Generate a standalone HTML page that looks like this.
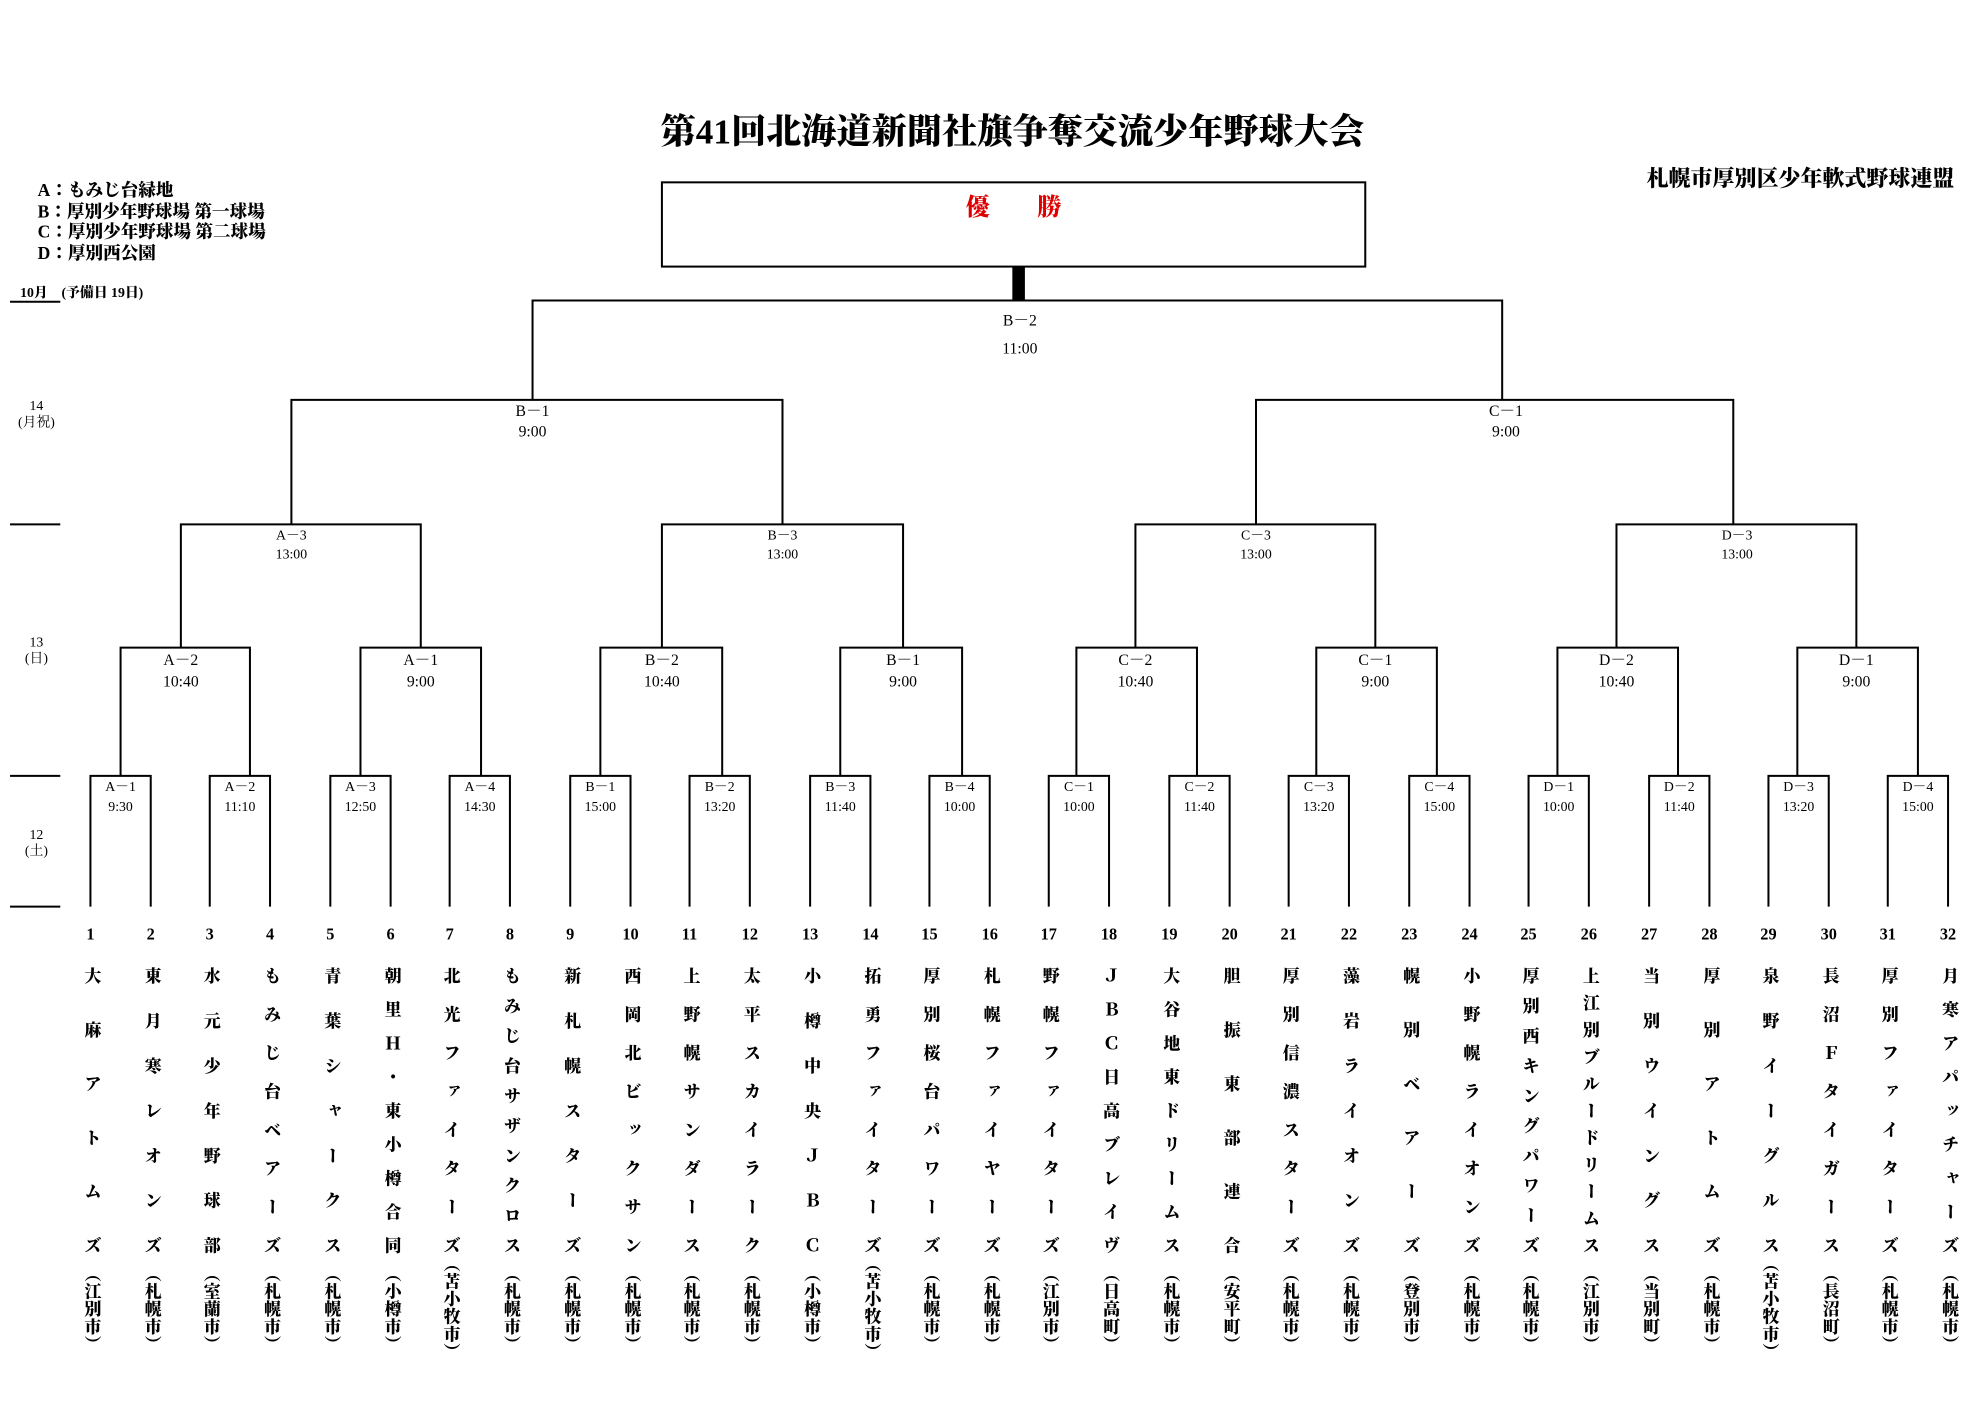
<!DOCTYPE html>
<html><head><meta charset="utf-8">
<style>
html,body{margin:0;padding:0;background:#fff;}
body{width:1969px;height:1406px;overflow:hidden;position:relative;}
#c{position:absolute;left:0;top:0;width:1560px;height:1114px;transform:scale(1.2560,1.2575);transform-origin:0 0;font-family:"Liberation Serif","Noto Serif CJK JP","Noto Serif CJK SC",serif;font-weight:900;color:#000;}
.t{position:absolute;white-space:nowrap;}
.v{position:absolute;writing-mode:vertical-rl;font-size:13.5px;line-height:16px;width:16px;height:228px;top:769px;text-align:justify;text-align-last:justify;}
.cy{position:absolute;writing-mode:vertical-rl;font-size:13.5px;line-height:16px;width:16px;top:1006px;letter-spacing:0.5px;}
.n{position:absolute;top:735px;width:30px;text-align:center;font-size:13px;}
svg{position:absolute;left:0;top:0;}
svg text{font-family:"Liberation Serif","Noto Serif CJK JP",serif;font-weight:normal;fill:#000;text-anchor:middle;}
</style></head><body><div id="c">
<svg width="1560" height="1114" viewBox="0 0 1560 1114">
<g stroke="#000" stroke-width="1.6" fill="none">
<rect x="527" y="145" width="560" height="67"/>
<line x1="8" y1="240" x2="48" y2="240"/><line x1="8" y1="417" x2="48" y2="417"/><line x1="8" y1="617" x2="48" y2="617"/><line x1="8" y1="721" x2="48" y2="721"/>
<path d="M424 318V239H1196V318"/>
<path d="M232 417V318H623V417"/><path d="M1000 417V318H1380V417"/>
<path d="M144 515V417H335V515"/><path d="M527 515V417H719V515"/><path d="M904 515V417H1095V515"/><path d="M1287 515V417H1478V515"/>
<path d="M96 617V515H199V617"/><path d="M287 617V515H383V617"/><path d="M478 617V515H575V617"/><path d="M669 617V515H766V617"/>
<path d="M857 617V515H953V617"/><path d="M1048 617V515H1144V617"/><path d="M1240 617V515H1336V617"/><path d="M1431 617V515H1527V617"/>
<path d="M72 721V617H120V721"/><path d="M167 721V617H215V721"/><path d="M263 721V617H311V721"/><path d="M358 721V617H406V721"/>
<path d="M454 721V617H502V721"/><path d="M549 721V617H597V721"/><path d="M645 721V617H693V721"/><path d="M740 721V617H788V721"/>
<path d="M835 721V617H883V721"/><path d="M931 721V617H979V721"/><path d="M1026 721V617H1074V721"/><path d="M1122 721V617H1170V721"/>
<path d="M1217 721V617H1265V721"/><path d="M1313 721V617H1361V721"/><path d="M1408 721V617H1456V721"/><path d="M1503 721V617H1551V721"/>
</g>
<rect x="806" y="212" width="10" height="27" fill="#000"/>
<g font-size="12.5">
<text x="812" y="259">B－2</text><text x="812" y="281">11:00</text>
<text x="424" y="331">B－1</text><text x="424" y="347">9:00</text>
<text x="1199" y="331">C－1</text><text x="1199" y="347">9:00</text>
</g>
<g font-size="11">
<text x="232" y="429">A－3</text><text x="232" y="444">13:00</text>
<text x="623" y="429">B－3</text><text x="623" y="444">13:00</text>
<text x="1000" y="429">C－3</text><text x="1000" y="444">13:00</text>
<text x="1383" y="429">D－3</text><text x="1383" y="444">13:00</text>
</g>
<g font-size="12.5">
<text x="144" y="529">A－2</text><text x="144" y="546">10:40</text>
<text x="335" y="529">A－1</text><text x="335" y="546">9:00</text>
<text x="527" y="529">B－2</text><text x="527" y="546">10:40</text>
<text x="719" y="529">B－1</text><text x="719" y="546">9:00</text>
<text x="904" y="529">C－2</text><text x="904" y="546">10:40</text>
<text x="1095" y="529">C－1</text><text x="1095" y="546">9:00</text>
<text x="1287" y="529">D－2</text><text x="1287" y="546">10:40</text>
<text x="1478" y="529">D－1</text><text x="1478" y="546">9:00</text>
</g>
<g font-size="11">
<text x="96" y="629">A－1</text><text x="96" y="645">9:30</text>
<text x="191" y="629">A－2</text><text x="191" y="645">11:10</text>
<text x="287" y="629">A－3</text><text x="287" y="645">12:50</text>
<text x="382" y="629">A－4</text><text x="382" y="645">14:30</text>
<text x="478" y="629">B－1</text><text x="478" y="645">15:00</text>
<text x="573" y="629">B－2</text><text x="573" y="645">13:20</text>
<text x="669" y="629">B－3</text><text x="669" y="645">11:40</text>
<text x="764" y="629">B－4</text><text x="764" y="645">10:00</text>
<text x="859" y="629">C－1</text><text x="859" y="645">10:00</text>
<text x="955" y="629">C－2</text><text x="955" y="645">11:40</text>
<text x="1050" y="629">C－3</text><text x="1050" y="645">13:20</text>
<text x="1146" y="629">C－4</text><text x="1146" y="645">15:00</text>
<text x="1241" y="629">D－1</text><text x="1241" y="645">10:00</text>
<text x="1337" y="629">D－2</text><text x="1337" y="645">11:40</text>
<text x="1432" y="629">D－3</text><text x="1432" y="645">13:20</text>
<text x="1527" y="629">D－4</text><text x="1527" y="645">15:00</text>
</g>
<g font-size="11" font-weight="bold">
<text x="29" y="326">14</text><text x="29" y="339">(月祝)</text>
<text x="29" y="514">13</text><text x="29" y="527">(日)</text>
<text x="29" y="667">12</text><text x="29" y="680">(土)</text>
</g>
</svg>
<div class="t" style="left:0;width:1612px;top:83px;text-align:center;font-size:28px;">第41回北海道新聞社旗争奪交流少年野球大会</div>
<div class="t" style="right:4px;top:129px;font-size:17.5px;">札幌市厚別区少年軟式野球連盟</div>
<div class="t" style="left:0;width:1614px;top:150px;text-align:center;font-size:19px;color:#e00000;">優　　勝</div>
<div class="t" style="left:30px;top:145px;font-size:14px;line-height:16.7px;">A：もみじ台緑地<br>B：厚別少年野球場 第一球場<br>C：厚別少年野球場 第二球場<br>D：厚別西公園</div>
<div class="t" style="left:16px;top:224px;font-size:11px;">10月　(予備日 19日)</div>

<div class="n" style="left:57px">1</div><div class="n" style="left:105px">2</div><div class="n" style="left:152px">3</div><div class="n" style="left:200px">4</div>
<div class="n" style="left:248px">5</div><div class="n" style="left:296px">6</div><div class="n" style="left:343px">7</div><div class="n" style="left:391px">8</div>
<div class="n" style="left:439px">9</div><div class="n" style="left:487px">10</div><div class="n" style="left:534px">11</div><div class="n" style="left:582px">12</div>
<div class="n" style="left:630px">13</div><div class="n" style="left:678px">14</div><div class="n" style="left:725px">15</div><div class="n" style="left:773px">16</div>
<div class="n" style="left:820px">17</div><div class="n" style="left:868px">18</div><div class="n" style="left:916px">19</div><div class="n" style="left:964px">20</div>
<div class="n" style="left:1011px">21</div><div class="n" style="left:1059px">22</div><div class="n" style="left:1107px">23</div><div class="n" style="left:1155px">24</div>
<div class="n" style="left:1202px">25</div><div class="n" style="left:1250px">26</div><div class="n" style="left:1298px">27</div><div class="n" style="left:1346px">28</div>
<div class="n" style="left:1393px">29</div><div class="n" style="left:1441px">30</div><div class="n" style="left:1488px">31</div><div class="n" style="left:1536px">32</div>

<div class="v" style="left:64px">大麻アトムズ</div><div class="cy" style="left:64px">（江別市）</div>
<div class="v" style="left:112px">東月寒レオンズ</div><div class="cy" style="left:112px">（札幌市）</div>
<div class="v" style="left:159px">水元少年野球部</div><div class="cy" style="left:159px">（室蘭市）</div>
<div class="v" style="left:207px">もみじ台ベアーズ</div><div class="cy" style="left:207px">（札幌市）</div>
<div class="v" style="left:255px">青葉シャークス</div><div class="cy" style="left:255px">（札幌市）</div>
<div class="v" style="left:303px">朝里Ｈ・東小樽合同</div><div class="cy" style="left:303px">（小樽市）</div>
<div class="v" style="left:350px">北光ファイターズ</div><div class="cy" style="left:350px;top:998px">（苫小牧市）</div>
<div class="v" style="left:398px">もみじ台サザンクロス</div><div class="cy" style="left:398px">（札幌市）</div>
<div class="v" style="left:446px">新札幌スターズ</div><div class="cy" style="left:446px">（札幌市）</div>
<div class="v" style="left:494px">西岡北ビックサン</div><div class="cy" style="left:494px">（札幌市）</div>
<div class="v" style="left:541px">上野幌サンダース</div><div class="cy" style="left:541px">（札幌市）</div>
<div class="v" style="left:589px">太平スカイラーク</div><div class="cy" style="left:589px">（札幌市）</div>
<div class="v" style="left:637px">小樽中央ＪＢＣ</div><div class="cy" style="left:637px">（小樽市）</div>
<div class="v" style="left:685px">拓勇ファイターズ</div><div class="cy" style="left:685px;top:998px">（苫小牧市）</div>
<div class="v" style="left:732px">厚別桜台パワーズ</div><div class="cy" style="left:732px">（札幌市）</div>
<div class="v" style="left:780px">札幌ファイヤーズ</div><div class="cy" style="left:780px">（札幌市）</div>
<div class="v" style="left:827px">野幌ファイターズ</div><div class="cy" style="left:827px">（江別市）</div>
<div class="v" style="left:875px">ＪＢＣ日高ブレイヴ</div><div class="cy" style="left:875px">（日高町）</div>
<div class="v" style="left:923px">大谷地東ドリームス</div><div class="cy" style="left:923px">（札幌市）</div>
<div class="v" style="left:971px">胆振東部連合</div><div class="cy" style="left:971px">（安平町）</div>
<div class="v" style="left:1018px">厚別信濃スターズ</div><div class="cy" style="left:1018px">（札幌市）</div>
<div class="v" style="left:1066px">藻岩ライオンズ</div><div class="cy" style="left:1066px">（札幌市）</div>
<div class="v" style="left:1114px">幌別ベアーズ</div><div class="cy" style="left:1114px">（登別市）</div>
<div class="v" style="left:1162px">小野幌ライオンズ</div><div class="cy" style="left:1162px">（札幌市）</div>
<div class="v" style="left:1209px">厚別西キングパワーズ</div><div class="cy" style="left:1209px">（札幌市）</div>
<div class="v" style="left:1257px">上江別ブルードリームス</div><div class="cy" style="left:1257px">（江別市）</div>
<div class="v" style="left:1305px">当別ウイングス</div><div class="cy" style="left:1305px">（当別町）</div>
<div class="v" style="left:1353px">厚別アトムズ</div><div class="cy" style="left:1353px">（札幌市）</div>
<div class="v" style="left:1400px">泉野イーグルス</div><div class="cy" style="left:1400px;top:998px">（苫小牧市）</div>
<div class="v" style="left:1448px">長沼Ｆタイガース</div><div class="cy" style="left:1448px">（長沼町）</div>
<div class="v" style="left:1495px">厚別ファイターズ</div><div class="cy" style="left:1495px">（札幌市）</div>
<div class="v" style="left:1543px">月寒アパッチャーズ</div><div class="cy" style="left:1543px">（札幌市）</div>
</div></body></html>
